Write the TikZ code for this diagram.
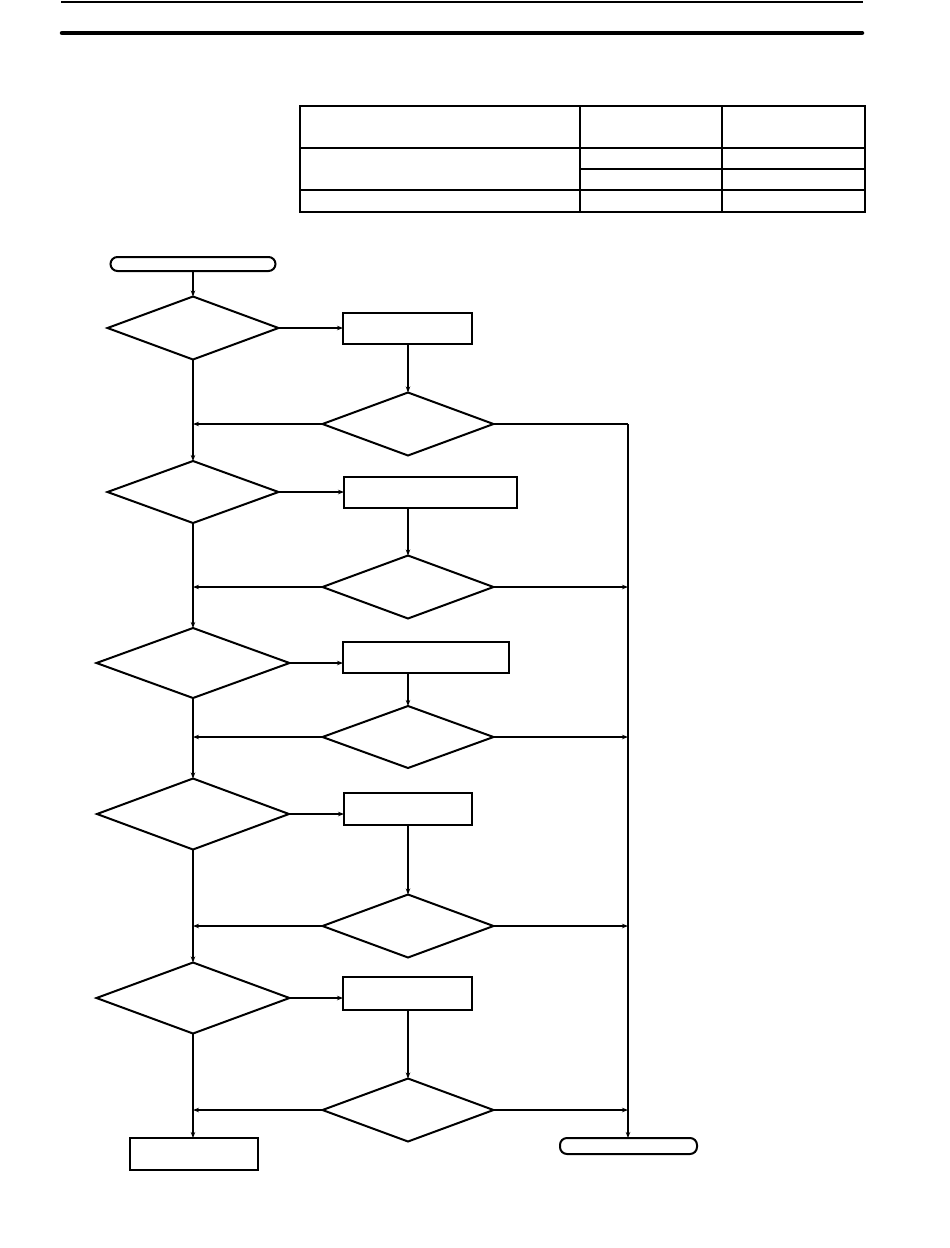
\documentclass[tikz,border=0pt]{standalone}
\usetikzlibrary{shapes.geometric,arrows.meta}
\begin{document}
\begin{tikzpicture}[x=1pt,y=-1pt,
  ln/.style={line width=2pt},
  arr/.style={ln,-{Stealth[length=6pt,width=4.5pt]}},
  dia/.style={draw,ln,diamond,inner sep=0pt,outer sep=0pt},
  procbox/.style={draw,ln,rectangle,inner sep=0pt,outer sep=0pt},
  term/.style={draw,ln,rectangle,rounded corners=7pt,inner sep=0pt,outer sep=0pt}]
\useasboundingbox[fill=white] (0,0) rectangle (950,1248);
% header rules
\draw[line width=2pt] (61,2) -- (863,2);
\draw[line width=4.5pt,line cap=round] (62,33) -- (862,33);
% table
\draw[ln] (300,106) rectangle (865,212);
\draw[ln] (580,106) -- (580,212);
\draw[ln] (722,106) -- (722,212);
\draw[ln] (300,148) -- (865,148);
\draw[ln] (580,169) -- (865,169);
\draw[ln] (300,190) -- (865,190);
% nodes
\node[term,minimum width=165pt,minimum height=14pt] (start) at (193,264) {};
\node[dia,minimum width=171pt,minimum height=63pt] (d1) at (193,328) {};
\node[procbox,minimum width=129pt,minimum height=31pt] (b1) at (407.5,328.5) {};
\node[dia,minimum width=171pt,minimum height=63pt] (d2) at (408,424) {};
\node[dia,minimum width=171pt,minimum height=62pt] (d3) at (193,492) {};
\node[procbox,minimum width=173pt,minimum height=31pt] (b2) at (430.5,492.5) {};
\node[dia,minimum width=171pt,minimum height=63pt] (d4) at (408,587) {};
\node[dia,minimum width=193pt,minimum height=70pt] (d5) at (193,663) {};
\node[procbox,minimum width=166pt,minimum height=31pt] (b3) at (426,657.5) {};
\node[dia,minimum width=171pt,minimum height=62pt] (d6) at (408,737) {};
\node[dia,minimum width=192pt,minimum height=71pt] (d7) at (193,814) {};
\node[procbox,minimum width=128pt,minimum height=32pt] (b4) at (408,809) {};
\node[dia,minimum width=171pt,minimum height=63pt] (d8) at (408,926) {};
\node[dia,minimum width=193pt,minimum height=71pt] (d9) at (193,998) {};
\node[procbox,minimum width=129pt,minimum height=33pt] (b5) at (407.5,993.5) {};
\node[dia,minimum width=171pt,minimum height=63pt] (d10) at (408,1110) {};
\node[procbox,minimum width=128pt,minimum height=32pt] (b6) at (194,1154) {};
\node[term,minimum width=137pt,minimum height=16pt] (end) at (628.5,1146) {};
% main chain
\draw[arr] (start.south -| d1.north) -- (d1.north);
\draw[arr] (d1.south) -- (d3.north);
\draw[arr] (d3.south) -- (d5.north);
\draw[arr] (d5.south) -- (d7.north);
\draw[arr] (d7.south) -- (d9.north);
\draw[arr] (d9.south) -- (d9.south |- b6.north);
% to process boxes
\draw[arr] (d1.east) -- (d1.east -| b1.west);
\draw[arr] (d3.east) -- (d3.east -| b2.west);
\draw[arr] (d5.east) -- (d5.east -| b3.west);
\draw[arr] (d7.east) -- (d7.east -| b4.west);
\draw[arr] (d9.east) -- (d9.east -| b5.west);
\draw[arr] (d2.north |- b1.south) -- (d2.north);
\draw[arr] (d4.north |- b2.south) -- (d4.north);
\draw[arr] (d6.north |- b3.south) -- (d6.north);
\draw[arr] (d8.north |- b4.south) -- (d8.north);
\draw[arr] (d10.north |- b5.south) -- (d10.north);
% back to main line
\foreach \d in {d2,d4,d6,d8,d10} {
  \draw[arr] (\d.west) -- (\d.west -| d1.north);
}
% right collector
\coordinate (rc) at (628,424);
\draw[line width=1.5pt] (d2.east) -- (rc);
\draw[arr] (rc) -- (rc |- end.north);
\foreach \d in {d4,d6,d8,d10} {
  \draw[arr] (\d.east) -- (\d.east -| rc);
}
\end{tikzpicture}
\end{document}
